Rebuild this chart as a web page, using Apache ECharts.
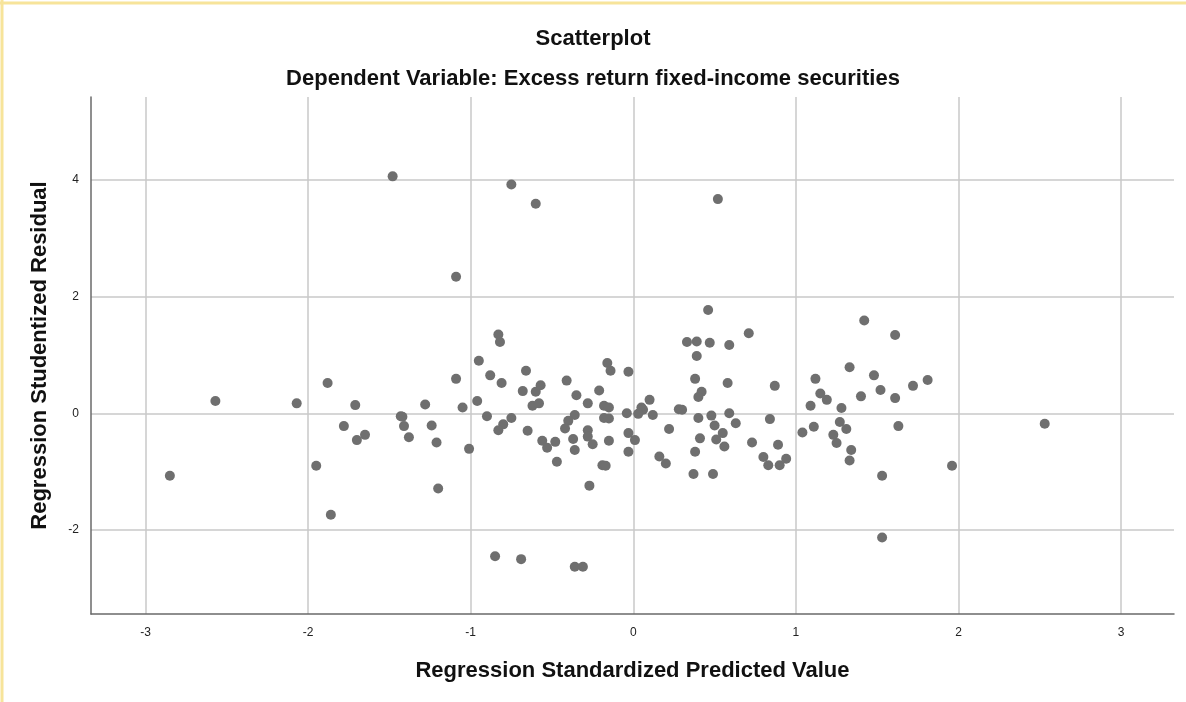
<!DOCTYPE html>
<html>
<head>
<meta charset="utf-8">
<script src="https://cdn.jsdelivr.net/npm/echarts@6/dist/echarts.min.js"></script>
<style>
html,body{margin:0;padding:0;background:#fff;}
#chart{width:1186px;height:702px;}
</style>
</head>
<body>
<div id="chart"></div>
<script>
// Regression Standardized Predicted Value (x)
const predicted = [
-2.85,-2.57,-2.07,-1.95,-1.88,-1.86,-1.78,-1.71,-1.70,-1.65,
-1.43,-1.42,-1.41,-1.38,-1.28,-1.24,-1.21,-1.20,-1.09,-1.05,
-1.01,-1.09,-1.48,-0.75,-0.60,0.52,-0.83,-0.82,-0.95,-0.88,
-0.81,-0.66,-0.96,-0.90,-0.68,-0.60,-0.57,-0.62,-0.58,-0.75,
-0.80,-0.83,-0.65,-0.56,-0.53,-0.48,-0.47,-0.41,-0.35,-0.28,
-0.36,-0.40,-0.42,-0.37,-0.36,-0.28,-0.28,-0.25,-0.27,-0.21,
-0.16,-0.14,-0.18,-0.15,-0.18,-0.15,-0.15,-0.19,-0.17,-0.03,
-0.04,-0.03,0.01,-0.03,0.10,0.05,0.06,0.03,0.12,0.22,
0.16,0.20,0.28,0.30,0.33,0.39,0.47,0.59,0.71,0.46,
0.39,0.38,0.58,0.87,0.42,0.40,0.40,0.48,0.59,0.63,
0.84,0.50,0.55,0.51,0.41,0.56,0.73,0.38,0.37,0.49,
0.80,0.83,0.90,0.94,0.89,1.42,1.61,1.33,1.48,1.12,
1.52,1.40,1.61,1.72,1.81,1.15,1.19,1.09,1.28,1.11,
1.04,1.27,1.31,1.23,1.25,1.34,1.33,1.63,1.53,1.53,
1.96,2.53,-0.85,-0.69,-0.36,-0.31
];
// Regression Studentized Residual (y)
const residual = [
-1.07,0.21,0.17,-0.90,0.52,-1.74,-0.22,0.14,-0.46,-0.37,
-0.05,-0.06,-0.22,-0.41,0.15,-0.21,-0.50,-1.29,0.59,0.10,
-0.61,2.34,4.06,3.92,3.59,3.67,1.35,1.22,0.90,0.65,
0.52,0.73,0.21,-0.05,0.38,0.37,0.48,0.13,0.17,-0.08,
-0.19,-0.29,-0.30,-0.47,-0.59,-0.49,-0.83,0.56,0.31,0.17,
-0.03,-0.13,-0.26,-0.44,-0.63,-0.29,-0.40,-0.53,-1.24,0.39,
0.86,0.73,0.13,0.10,-0.08,-0.09,-0.47,-0.89,-0.90,0.71,
0.00,-0.34,-0.46,-0.66,0.23,0.10,0.06,-0.01,-0.03,-0.27,
-0.74,-0.86,0.07,0.06,1.22,1.23,1.21,1.17,1.37,1.77,
0.98,0.59,0.52,0.47,0.37,0.28,-0.08,-0.04,0.00,-0.17,
-0.10,-0.21,-0.34,-0.45,-0.43,-0.57,-0.50,-0.66,-1.04,-1.04,
-0.75,-0.89,-0.89,-0.78,-0.54,1.59,1.34,0.79,0.65,0.59,
0.40,0.29,0.26,0.47,0.57,0.34,0.23,0.13,0.09,-0.23,
-0.33,-0.15,-0.27,-0.37,-0.51,-0.63,-0.81,-0.22,-1.07,-2.13,
-0.90,-0.18,-2.45,-2.50,-2.63,-2.63
];
const xTicks = [-3,-2,-1,0,1,2,3];
const yTicks = [-2,0,2,4];

const points = predicted.map((v,i)=>[v,residual[i]]);

const chart = echarts.init(document.getElementById('chart'), null, {renderer:'canvas'});
const FONT = '"Liberation Sans", Arial, sans-serif';
chart.setOption({
  backgroundColor:'#ffffff',
  animation:false,
  title:[
    {text:'Scatterplot', left:'center', top:23, textStyle:{fontFamily:FONT,fontSize:22,fontWeight:'bold',color:'#111'}},
    {text:'Dependent Variable: Excess return fixed-income securities', left:'center', top:63, textStyle:{fontFamily:FONT,fontSize:22,fontWeight:'bold',color:'#111'}}
  ],
  grid:{left:91, right:12, top:97, bottom:88, containLabel:false},
  xAxis:{
    type:'value', min:-3.335, max:3.325,
    name:'Regression Standardized Predicted Value',
    nameLocation:'middle', nameGap:46,
    nameTextStyle:{fontFamily:FONT,fontSize:22,fontWeight:'bold',color:'#111'},
    axisLine:{show:true,onZero:false,lineStyle:{color:'#6a6a6a',width:1.5}},
    axisTick:{show:false, customValues:xTicks},
    axisLabel:{customValues:xTicks, margin:13, fontFamily:FONT, fontSize:12, color:'#222'},
    splitLine:{show:true,lineStyle:{color:'#c9c9c9',width:1.5}}
  },
  yAxis:{
    type:'value', min:-3.44, max:5.42,
    name:'Regression Studentized Residual',
    nameLocation:'middle', nameGap:40,
    nameTextStyle:{fontFamily:FONT,fontSize:22,fontWeight:'bold',color:'#111'},
    axisLine:{show:true,onZero:false,lineStyle:{color:'#6a6a6a',width:1.5}},
    axisTick:{show:false, customValues:yTicks},
    axisLabel:{customValues:yTicks, margin:12, fontFamily:FONT, fontSize:12, color:'#222'},
    splitLine:{show:true,lineStyle:{color:'#c9c9c9',width:1.5}}
  },
  series:[{
    type:'scatter',
    data:points,
    symbol:'circle',
    symbolSize:10,
    itemStyle:{color:'#6f6f6f', opacity:1}
  }],
  graphic:[
    {type:'line', shape:{x1:0,y1:3,x2:1186,y2:3}, style:{stroke:'#f7e49a',lineWidth:3}},
    {type:'line', shape:{x1:2,y1:0,x2:2,y2:702}, style:{stroke:'#f7e49a',lineWidth:3}}
  ]
});
</script>
</body>
</html>
